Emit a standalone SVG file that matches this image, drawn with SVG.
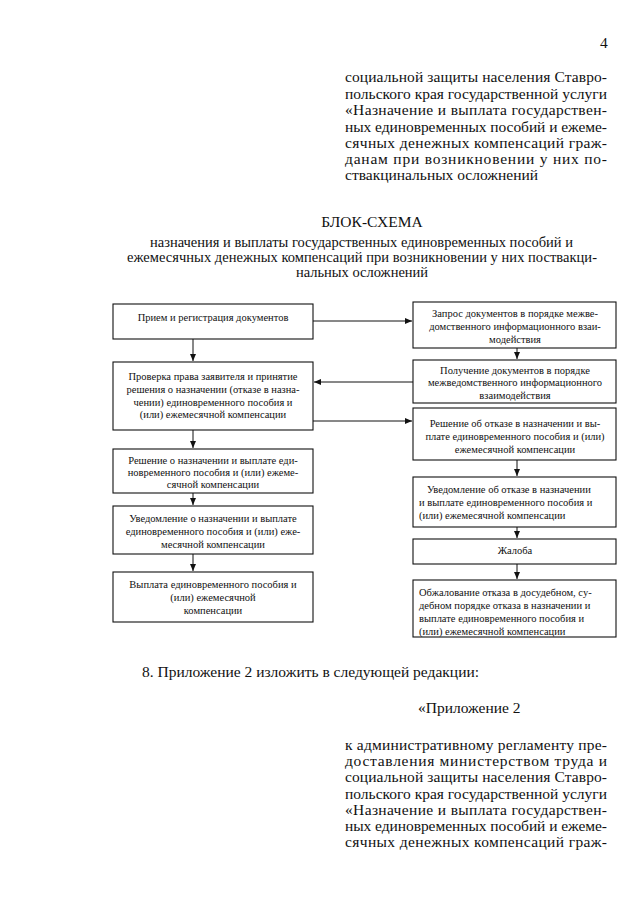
<svg xmlns="http://www.w3.org/2000/svg" width="640" height="905" viewBox="0 0 640 905">
<style>
text{font-family:"Liberation Serif","Times New Roman","DejaVu Serif",serif;fill:#111}
.p{font-size:15.5px}
.t{font-size:14.5px}
.b{font-size:10.5px}
.c{text-anchor:middle}
.box{fill:#fff;stroke:#111;stroke-width:1.1}
.ln{stroke:#111;stroke-width:1;fill:none}
</style>
<defs>
<marker id="ah" markerUnits="userSpaceOnUse" markerWidth="8" markerHeight="8" refX="7" refY="3" orient="auto"><path d="M0,0 L7,3 L0,6 Z" fill="#111"/></marker>
</defs>
<rect width="640" height="905" fill="#fff"/>
<text class="p" x="600" y="48">4</text>
<g id="header">
<text class="p" x="345" y="82" textLength="262">социальной защиты населения Ставро-</text>
<text class="p" x="345" y="99" textLength="262">польского края государственной услуги</text>
<text class="p" x="345" y="115" textLength="262">«Назначение и выплата государствен-</text>
<text class="p" x="345" y="132" textLength="262">ных единовременных пособий и ежеме-</text>
<text class="p" x="345" y="148" textLength="262">сячных денежных компенсаций граж-</text>
<text class="p" x="345" y="164" textLength="262">данам при возникновении у них по-</text>
<text class="p" x="345" y="180">ствакцинальных осложнений</text>
</g>
<g id="title">
<text class="p c" x="372" y="227">БЛОК-СХЕМА</text>
<text class="t" x="150" y="247" textLength="423">назначения и выплаты государственных единовременных пособий и</text>
<text class="t" x="127" y="261.5" textLength="470">ежемесячных денежных компенсаций при возникновении у них поствакци-</text>
<text class="t c" x="362" y="277">нальных осложнений</text>
</g>
<g id="connectors">
<line class="ln" x1="193" y1="339" x2="193" y2="361" marker-end="url(#ah)"/>
<line class="ln" x1="193" y1="430" x2="193" y2="448" marker-end="url(#ah)"/>
<line class="ln" x1="193" y1="493" x2="193" y2="505" marker-end="url(#ah)"/>
<line class="ln" x1="193" y1="554" x2="193" y2="571" marker-end="url(#ah)"/>
<line class="ln" x1="313" y1="321" x2="412" y2="321" marker-end="url(#ah)"/>
<line class="ln" x1="413" y1="382" x2="314" y2="382" marker-end="url(#ah)"/>
<line class="ln" x1="313" y1="421" x2="412" y2="421" marker-end="url(#ah)"/>
<line class="ln" x1="517" y1="348" x2="517" y2="359" marker-end="url(#ah)"/>
<line class="ln" x1="517" y1="460" x2="517" y2="476" marker-end="url(#ah)"/>
<line class="ln" x1="517" y1="527" x2="517" y2="538" marker-end="url(#ah)"/>
<line class="ln" x1="517" y1="564" x2="517" y2="579" marker-end="url(#ah)"/>
</g>
<g id="L1"><rect class="box" x="113" y="304" width="200" height="35"/>
<text class="b c" x="213" y="321">Прием и регистрация документов</text></g>
<g id="L2"><rect class="box" x="113" y="362" width="200" height="68"/>
<text class="b c" x="213" y="380">Проверка права заявителя и принятие</text>
<text class="b c" x="213" y="393">решения о назначении (отказе в назна-</text>
<text class="b c" x="213" y="406">чении) единовременного пособия и</text>
<text class="b c" x="213" y="418">(или) ежемесячной компенсации</text></g>
<g id="L3"><rect class="box" x="113" y="449" width="200" height="44"/>
<text class="b c" x="213" y="464">Решение о назначении и выплате еди-</text>
<text class="b c" x="213" y="476">новременного пособия и (или) ежеме-</text>
<text class="b c" x="213" y="488">сячной компенсации</text></g>
<g id="L4"><rect class="box" x="113" y="506" width="200" height="48"/>
<text class="b c" x="213" y="522">Уведомление о назначении и выплате</text>
<text class="b c" x="213" y="535">единовременного пособия и (или) еже-</text>
<text class="b c" x="213" y="548">месячной компенсации</text></g>
<g id="L5"><rect class="box" x="113" y="572" width="200" height="50"/>
<text class="b c" x="213" y="588">Выплата единовременного пособия и</text>
<text class="b c" x="213" y="601">(или) ежемесячной</text>
<text class="b c" x="213" y="614">компенсации</text></g>
<g id="R1"><rect class="box" x="413" y="302" width="203" height="46"/>
<text class="b c" x="515" y="317">Запрос документов в порядке межве-</text>
<text class="b c" x="515" y="330">домственного информационного взаи-</text>
<text class="b c" x="515" y="343">модействия</text></g>
<g id="R2"><rect class="box" x="413" y="360" width="203" height="43"/>
<text class="b c" x="515" y="374">Получение документов в порядке</text>
<text class="b c" x="515" y="386">межведомственного информационного</text>
<text class="b c" x="515" y="399">взаимодействия</text></g>
<g id="R3"><rect class="box" x="413" y="408" width="203" height="52"/>
<text class="b c" x="515" y="427">Решение об отказе в назначении и вы-</text>
<text class="b c" x="515" y="440">плате единовременного пособия и (или)</text>
<text class="b c" x="515" y="453">ежемесячной компенсации</text></g>
<g id="R4"><rect class="box" x="413" y="477" width="203" height="50"/>
<text class="b" x="427" y="493">Уведомление об отказе в назначении</text>
<text class="b" x="419" y="506">и выплате единовременного пособия и</text>
<text class="b" x="419" y="519">(или) ежемесячной компенсации</text></g>
<g id="R5"><rect class="box" x="413" y="539" width="203" height="25"/>
<text class="b c" x="515" y="554">Жалоба</text></g>
<g id="R6"><rect class="box" x="413" y="580" width="203" height="57"/>
<text class="b" x="419" y="596">Обжалование отказа в досудебном, су-</text>
<text class="b" x="419" y="609">дебном порядке отказа в назначении и</text>
<text class="b" x="419" y="622">выплате единовременного пособия и</text>
<text class="b" x="419" y="635">(или) ежемесячной компенсации</text></g>
<g id="footer">
<text class="p" x="142" y="677">8. Приложение 2 изложить в следующей редакции:</text>
<text class="p" x="418" y="713">«Приложение 2</text>
<text class="p" x="345" y="750" textLength="262">к административному регламенту пре-</text>
<text class="p" x="345" y="766" textLength="262">доставления министерством труда и</text>
<text class="p" x="345" y="782" textLength="262">социальной защиты населения Ставро-</text>
<text class="p" x="345" y="799" textLength="262">польского края государственной услуги</text>
<text class="p" x="345" y="815" textLength="262">«Назначение и выплата государствен-</text>
<text class="p" x="345" y="831" textLength="262">ных единовременных пособий и ежеме-</text>
<text class="p" x="345" y="847" textLength="262">сячных денежных компенсаций граж-</text>
</g>
</svg>
